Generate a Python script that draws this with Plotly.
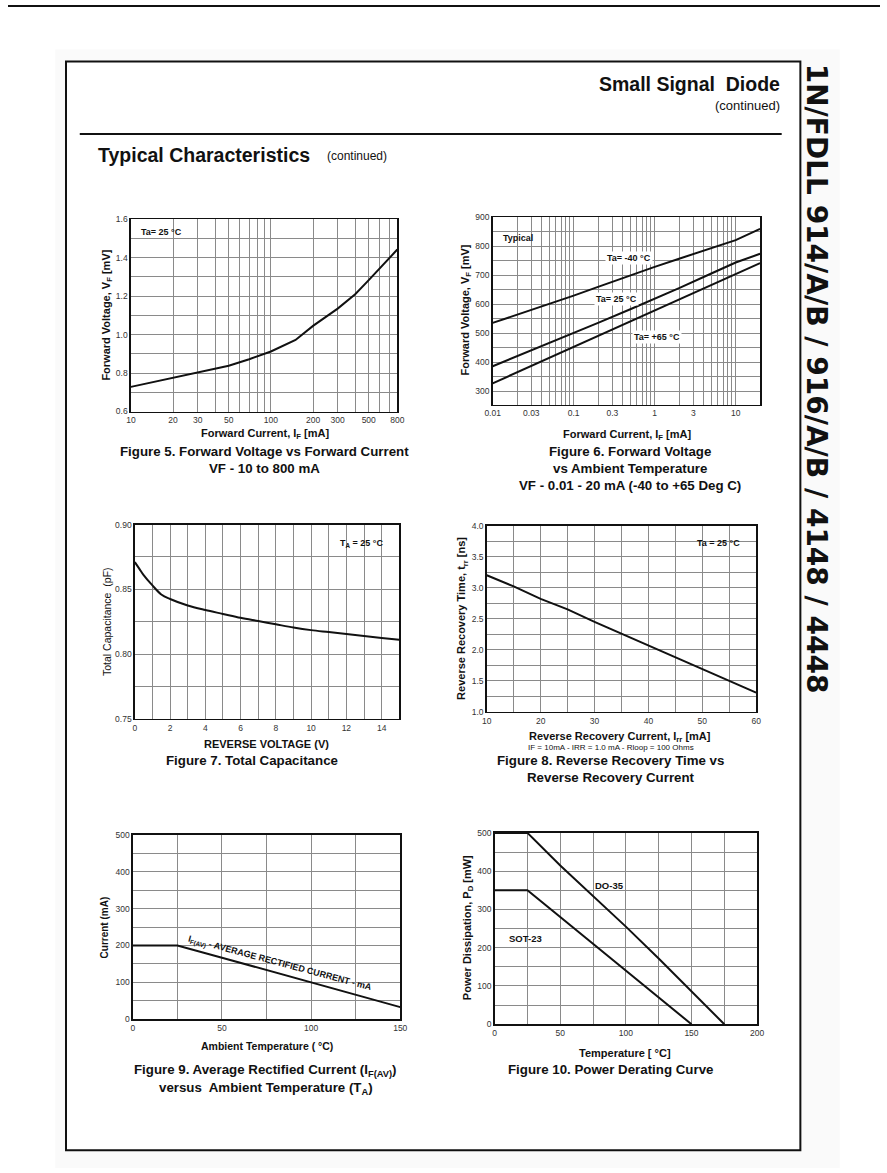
import plotly.graph_objects as go

W, H = 887, 1173
FONT = "Arial, Liberation Sans, sans-serif"

# ---------------- data ----------------
# Figure 5: forward voltage vs forward current (Ta = 25 C)
f5_current = [10, 20, 30, 50, 70, 100, 150, 200, 300, 400, 500, 600, 700, 800]
f5_vf = [0.728, 0.776, 0.802, 0.838, 0.872, 0.912, 0.972, 1.045, 1.135, 1.21, 1.283, 1.345, 1.398, 1.442]
f5_x_gridvals = [10, 20, 30, 40, 50, 60, 70, 80, 90, 100, 200, 300, 400, 500, 600, 700, 800]
f5_x_ticktext = ["10", "20", "30", "", "50", "", "", "", "", "100", "200", "300", "", "500", "", "", "800"]

# Figure 6: forward voltage vs ambient temperature
f6_current = [0.01, 0.02, 0.05, 0.1, 0.2, 0.5, 1, 2, 5, 10, 20]
f6_vf_m40 = [536, 564, 602, 630, 660, 700, 729, 757, 794, 821, 860]
f6_vf_25 = [387, 421, 466, 500, 536, 583, 619, 656, 706, 744, 774]
f6_vf_65 = [328, 366, 415, 453, 491, 542, 580, 617, 667, 704, 742]
f6_x_gridvals = [0.01, 0.02, 0.03, 0.04, 0.05, 0.06, 0.07, 0.08, 0.09,
                 0.1, 0.2, 0.3, 0.4, 0.5, 0.6, 0.7, 0.8, 0.9,
                 1, 2, 3, 4, 5, 6, 7, 8, 9, 10, 20]
f6_x_ticktext = ["0.01", "", "0.03", "", "", "", "", "", "",
                 "0.1", "", "0.3", "", "", "", "", "", "",
                 "1", "", "3", "", "", "", "", "", "", "10", ""]
f6_y_tickvals = [300, 400, 500, 600, 700, 800, 900]

# Figure 7: total capacitance
f7_voltage = [0, 0.25, 0.5, 1, 1.5, 2, 3, 4, 5, 6, 7, 8, 9, 10, 11, 12, 13, 14, 15]
f7_cap = [0.871, 0.866, 0.861, 0.853, 0.846, 0.8425, 0.8375, 0.834, 0.831, 0.828,
          0.8255, 0.823, 0.8205, 0.8185, 0.817, 0.8155, 0.814, 0.8125, 0.811]

# Figure 8: reverse recovery time vs reverse recovery current
f8_current = [10, 15, 20, 25, 30, 35, 40, 45, 50, 55, 60]
f8_trr = [3.2, 3.02, 2.82, 2.65, 2.45, 2.26, 2.07, 1.87, 1.69, 1.5, 1.31]

# Figure 9: average rectified current vs ambient temperature
f9_temp = [0, 25, 50, 75, 100, 125, 150]
f9_current = [200, 200, 167, 133, 100, 67, 33]

# Figure 10: power derating curve
f10_temp_do35 = [0, 25, 50, 75, 100, 125, 150, 175]
f10_pd_do35 = [500, 500, 415, 336, 255, 172, 85, 0]
f10_temp_sot23 = [0, 25, 50, 75, 100, 125, 150]
f10_pd_sot23 = [350, 350, 280, 210, 140, 70, 0]


# ---------------- helpers ----------------
def fx(p):
    return p / W


def fy(p):
    return 1 - p / H


GRID = "#8a8a8a"


def axis(dom, **kw):
    base = dict(domain=dom, showline=True, mirror=True, linecolor="#111", linewidth=1.5,
                showgrid=True, gridcolor=GRID, gridwidth=1, zeroline=False, ticks="",
                tickfont=dict(family=FONT, size=8.5, color="#333"), fixedrange=True)
    base.update(kw)
    return base


def minor(d):
    return dict(dtick=d, showgrid=True, gridcolor=GRID, gridwidth=1, ticks="")


boxes = {
    1: (125, 396, 216, 410),
    2: (493, 765, 214, 403),
    3: (129, 398, 524, 720),
    4: (487, 761, 525, 713),
    5: (127, 399, 837, 1023),
    6: (495, 762, 835, 1028),
}


def xdom(i):
    l, r, t, b = boxes[i]
    return [fx(l), fx(r)]


def ydom(i):
    l, r, t, b = boxes[i]
    return [fy(b), fy(t)]


fig = go.Figure()
line = dict(color="#111", width=2)

fig.add_trace(go.Scatter(x=f5_current, y=f5_vf, mode="lines", line=line, xaxis="x", yaxis="y"))
fig.add_trace(go.Scatter(x=f6_current, y=f6_vf_m40, mode="lines", line=line, xaxis="x2", yaxis="y2"))
fig.add_trace(go.Scatter(x=f6_current, y=f6_vf_25, mode="lines", line=line, xaxis="x2", yaxis="y2"))
fig.add_trace(go.Scatter(x=f6_current, y=f6_vf_65, mode="lines", line=line, xaxis="x2", yaxis="y2"))
fig.add_trace(go.Scatter(x=f7_voltage, y=f7_cap, mode="lines", line=dict(color="#111", width=2, shape="spline"), xaxis="x3", yaxis="y3"))
fig.add_trace(go.Scatter(x=f8_current, y=f8_trr, mode="lines", line=line, xaxis="x4", yaxis="y4"))
fig.add_trace(go.Scatter(x=f9_temp, y=f9_current, mode="lines", line=line, xaxis="x5", yaxis="y5"))
fig.add_trace(go.Scatter(x=f10_temp_do35, y=f10_pd_do35, mode="lines", line=line, xaxis="x6", yaxis="y6"))
fig.add_trace(go.Scatter(x=f10_temp_sot23, y=f10_pd_sot23, mode="lines", line=line, xaxis="x6", yaxis="y6"))

layout = dict(
    width=W, height=H, margin=dict(l=0, r=0, t=0, b=0),
    paper_bgcolor="white", plot_bgcolor="white", showlegend=False,
    font=dict(family=FONT, color="#111"),
    xaxis=axis(xdom(1), anchor="y", type="log", range=[1, 2.903], tickvals=f5_x_gridvals, ticktext=f5_x_ticktext),
    yaxis=axis(ydom(1), anchor="x", range=[0.6, 1.6], dtick=0.2, tickformat=".1f", minor=minor(0.1)),
    xaxis2=axis(xdom(2), anchor="y2", type="log", range=[-2, 1.301], tickvals=f6_x_gridvals, ticktext=f6_x_ticktext),
    yaxis2=axis(ydom(2), anchor="x2", range=[255, 900], tickvals=f6_y_tickvals, minor=minor(50)),
    xaxis3=axis(xdom(3), anchor="y3", range=[0, 15], dtick=2, minor=minor(1)),
    yaxis3=axis(ydom(3), anchor="x3", range=[0.75, 0.90], dtick=0.05, tickformat=".2f", minor=minor(0.025)),
    xaxis4=axis(xdom(4), anchor="y4", range=[10, 60], dtick=10, minor=minor(5)),
    yaxis4=axis(ydom(4), anchor="x4", range=[1, 4], dtick=0.5, tickformat=".1f", minor=minor(0.25)),
    xaxis5=axis(xdom(5), anchor="y5", range=[0, 150], dtick=50, minor=minor(25)),
    yaxis5=axis(ydom(5), anchor="x5", range=[0, 500], dtick=100, minor=minor(50)),
    xaxis6=axis(xdom(6), anchor="y6", range=[0, 200], dtick=50, minor=minor(25)),
    yaxis6=axis(ydom(6), anchor="x6", range=[0, 500], dtick=100, minor=minor(50)),
)

anns = []


def ann(text, x, y, size=10, bold=True, xanchor="center", angle=0, color="#111", bg=None, family=FONT):
    if bold:
        text = "<b>" + text + "</b>"
    d = dict(text=text, x=fx(x), y=fy(y), xref="paper", yref="paper", showarrow=False, xanchor=xanchor,
             yanchor="middle", textangle=angle, font=dict(family=family, size=size, color=color))
    if bg:
        d["bgcolor"] = bg
    anns.append(d)


# page header
ann("Small Signal  Diode", 787, 80, size=19.5, xanchor="right")
ann("(continued)", 787, 101, size=13, bold=False, xanchor="right")
ann("Typical Characteristics", 90, 151, size=19.5, xanchor="left")
ann("(continued)", 322, 152, size=12, bold=False, xanchor="left")
ann("1N/FDLL 914/A/B / 916/A/B / 4148 / 4448", 822, 377, size=28, angle=90,
    family="DejaVu Sans, Arial, sans-serif")

# Figure 5
ann("Ta= 25 °C", 133, 229, size=9, xanchor="left")
ann("Forward Voltage, V<sub>F</sub> [mV]", 101, 313, size=11, angle=-90)
ann("Forward Current, I<sub>F</sub> [mA]", 261, 433, size=11)
ann("Figure 5. Forward Voltage vs Forward Current", 261, 450, size=13.3)
ann("VF - 10 to 800 mA", 261, 467, size=13.3)

# Figure 6
ann("Typical", 501, 235, size=9, xanchor="left")
ann("Ta= -40 °C", 632, 255, size=9, bg="white")
ann("Ta= 25 °C", 619, 297, size=9, bg="white")
ann("Ta= +65 °C", 660, 335, size=9, bg="white")
ann("Forward Voltage, V<sub>F</sub> [mV]", 466, 308, size=11, angle=-90)
ann("Forward Current, I<sub>F</sub> [mA]", 630, 434, size=11)
ann("Figure 6. Forward Voltage", 633, 450, size=13.3)
ann("vs Ambient Temperature", 633, 467, size=13.3)
ann("VF - 0.01 - 20 mA (-40 to +65 Deg C)", 633, 485, size=13.3)

# Figure 7
ann("T<sub>A</sub> = 25 °C", 360, 543, size=9)
ann("Total Capacitance  (pF)", 100, 622, size=10.5, bold=False, angle=-90)
ann("REVERSE VOLTAGE (V)", 263, 745, size=11)
ann("Figure 7. Total Capacitance", 248, 762, size=13.3)

# Figure 8
ann("Ta = 25 °C", 723, 543, size=9)
ann("Reverse Recovery Time, t<sub>rr</sub> [ns]", 462, 619, size=11, angle=-90)
ann("Reverse Recovery Current, I<sub>rr</sub> [mA]", 623, 738, size=11)
ann("IF = 10mA - IRR = 1.0 mA - Rloop = 100 Ohms", 613, 749, size=8, bold=False)
ann("Figure 8. Reverse Recovery Time vs", 613, 762, size=13.3)
ann("Reverse Recovery Current", 613, 779, size=13.3)

# Figure 9
ann("I<sub>F(AV)</sub> - AVERAGE RECTIFIED CURRENT - mA", 277, 967, size=9, angle=15)
ann("Current (mA)", 98, 930, size=10, angle=-90)
ann("Ambient Temperature ( °C)", 263, 1050, size=10.5)
ann("Figure 9. Average Rectified Current (I<sub>F(AV)</sub>)", 262, 1075, size=13.3)
ann("versus  Ambient Temperature (T<sub>A</sub>)", 262, 1093, size=13.3)

# Figure 10
ann("DO-35", 612, 888, size=9.5)
ann("SOT-23", 526, 942, size=9.5)
ann("Power Dissipation, P<sub>D</sub> [mW]", 468, 931, size=11, angle=-90)
ann("Temperature [ °C]", 628, 1057, size=11)
ann("Figure 10. Power Derating Curve", 613, 1074, size=13.3)

layout["annotations"] = anns

shapes = [
    dict(type="rect", xref="paper", yref="paper", x0=fx(48), x1=fx(846), y0=fy(1173), y1=fy(45),
         fillcolor="#fafafa", line=dict(width=0), layer="below"),
    dict(type="rect", xref="paper", yref="paper", x0=fx(59), x1=fx(806), y0=fy(1155), y1=fy(57),
         fillcolor="white", line=dict(color="#111", width=2), layer="below"),
    dict(type="line", xref="paper", yref="paper", x0=0, x1=1, y0=fy(1), y1=fy(1),
         line=dict(color="#111", width=2)),
    dict(type="line", xref="paper", yref="paper", x0=fx(73), x1=fx(787), y0=fy(130), y1=fy(130),
         line=dict(color="#111", width=2)),
]
layout["shapes"] = shapes

fig.update_layout(**layout)
fig.write_html(
    "out.html",
    config={"displayModeBar": False, "staticPlot": True},
    post_script=("document.documentElement.style.margin='0';document.documentElement.style.padding='0';"
                 "document.documentElement.style.overflow='hidden';"
                 "document.body.style.margin='0';document.body.style.padding='0';"
                 "document.body.style.overflow='hidden';"),
)
